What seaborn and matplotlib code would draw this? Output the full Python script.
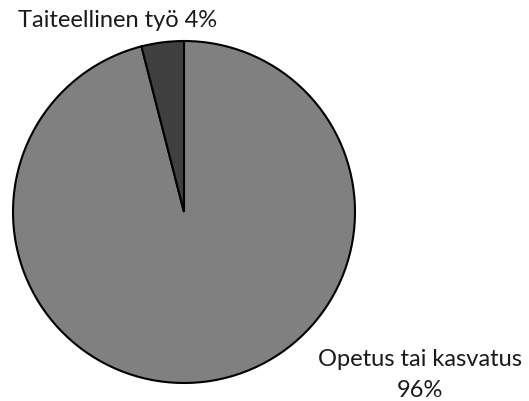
import matplotlib
matplotlib.use("Agg")
import matplotlib.pyplot as plt
import seaborn as sns

# Data
categories = ["Opetus tai kasvatus", "Taiteellinen työ"]
shares = [96, 4]
colors = ["#808080", "#404040"]

sns.set_style("white")
plt.rcParams['font.family'] = ['Lato', 'DejaVu Sans']

fig = plt.figure(figsize=(5.29, 4.02), dpi=100)
# pie centred at (184, 213) px, radius ~171 px
ax = fig.add_axes([13 / 529, 18 / 402, 342 / 529, 342 / 402])
ax.pie(shares, colors=colors, startangle=90, counterclock=False,
       wedgeprops=dict(edgecolor="black", linewidth=1.5))
ax.set_aspect("equal")
ax.set_xlim(-1, 1)
ax.set_ylim(-1, 1)
ax.axis("off")

txt = dict(ha="center", va="baseline", fontsize=17, color="#1a1a1a")
fig.text(118 / 529, 1 - 27 / 402, f"{categories[1]} {shares[1]}%", **txt)
fig.text(420 / 529, 1 - 366 / 402, categories[0], **txt)
fig.text(420 / 529, 1 - 397 / 402, f"{shares[0]}%", **txt)

fig.savefig("out.png", dpi=100)
